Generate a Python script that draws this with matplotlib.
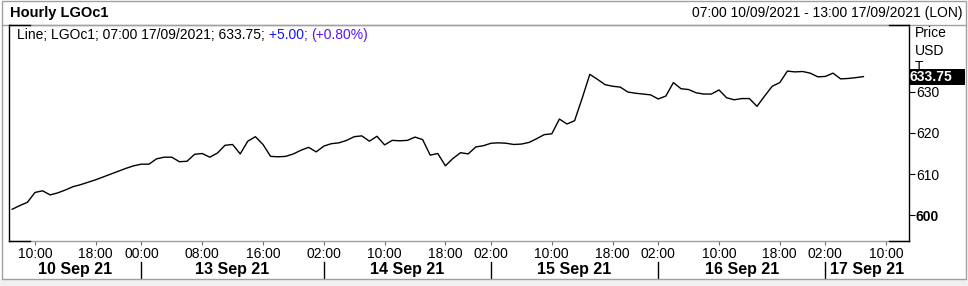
import matplotlib
matplotlib.use("Agg")
import matplotlib.pyplot as plt
from matplotlib.lines import Line2D
from matplotlib.patches import Rectangle
import matplotlib.transforms as mtransforms

plt.rcParams['font.family'] = ['Liberation Sans', 'DejaVu Sans']

## Data: hourly LGOc1 closes, 10/09/2021 07:00 -> 17/09/2021 07:00 (trading hours only)
prices = [
    601.4, 602.3, 603.1, 605.5, 605.9, 604.9, 605.4, 606.1, 606.9, 607.4,
    608.0, 608.6, 609.3, 610.0, 610.7, 611.4, 612.0, 612.4, 612.4, 613.7,
    614.1, 614.1, 613.0, 613.1, 614.8, 615.0, 614.1, 615.1, 617.0, 617.2,
    614.9, 618.0, 619.1, 617.2, 614.3, 614.2, 614.3, 614.9, 615.8, 616.5,
    615.4, 616.8, 617.4, 617.6, 618.2, 619.1, 619.3, 618.0, 619.2, 617.1,
    618.2, 618.1, 618.2, 619.0, 618.4, 614.6, 615.0, 612.0, 613.8, 615.2,
    614.9, 616.6, 616.9, 617.5, 617.6, 617.5, 617.2, 617.3, 617.7, 618.6,
    619.6, 619.8, 623.4, 622.2, 623.0, 628.5, 634.3, 633.1, 631.8, 631.4,
    631.2, 630.0, 629.7, 629.5, 629.3, 628.3, 629.0, 632.3, 630.8, 630.6,
    629.8, 629.5, 629.5, 630.5, 628.6, 628.1, 628.4, 628.4, 626.5, 629.0,
    631.4, 632.3, 635.1, 634.9, 635.0, 634.6, 633.7, 633.8, 634.6, 633.2,
    633.3, 633.5, 633.75,
]
tick_pos = [3, 11, 17, 25, 33, 41, 49, 57, 63, 71, 79, 85, 93, 101, 107, 115]
tick_labels = ['10:00', '18:00', '00:00', '08:00', '16:00', '02:00', '10:00', '18:00',
               '02:00', '10:00', '18:00', '02:00', '10:00', '18:00', '02:00', '10:00']
day_starts = [17, 41, 63, 85, 107]
day_labels = ['10 Sep 21', '13 Sep 21', '14 Sep 21', '15 Sep 21', '16 Sep 21', '17 Sep 21']
y_ticks = [600, 610, 620, 630]
last_price = 633.75

## Layout (pixels)
W, H = 968, 286
grey = '#a0a0a0'
x_lo, x_hi = -0.42, 118
y_lo, y_hi = 593.66, 646.34


def fx(x):
    return x / W


def fy(y):
    return 1 - y / H


fig = plt.figure(figsize=(W / 100, H / 100), dpi=100)
fig.patch.set_facecolor('white')

# bottom strip + outer border
fig.patches.append(Rectangle((0, 0), 1, fy(279), transform=fig.transFigure,
                             facecolor='#f0f0f0', edgecolor='none', zorder=0))
fig.patches.append(Rectangle((fx(2), fy(279)), fx(966) - fx(2), fy(1) - fy(279),
                             transform=fig.transFigure, facecolor='none',
                             edgecolor=grey, lw=1, zorder=1))
# header separator
fig.lines.append(Line2D([fx(2), fx(966)], [fy(25), fy(25)], transform=fig.transFigure,
                        color=grey, lw=1))

ax = fig.add_axes([fx(9), fy(241), fx(909) - fx(9), fy(25) - fy(241)])
ax.plot(range(len(prices)), prices, color='black', lw=1.0)
ax.set_xlim(x_lo, x_hi)
ax.set_ylim(y_lo, y_hi)

for s in ['left', 'right']:
    ax.spines[s].set_color('black')
    ax.spines[s].set_linewidth(1)
for s in ['top', 'bottom']:
    ax.spines[s].set_color(grey)
    ax.spines[s].set_linewidth(1)

# black corner stubs on the plot box
for yy in [25, 240.5]:
    for xa, xb in [(9, 30), (889, 909)]:
        fig.lines.append(Line2D([fx(xa), fx(xb)], [fy(yy), fy(yy)],
                                transform=fig.transFigure, color='black', lw=1))

# x axis
ax.set_xticks(tick_pos)
ax.set_xticklabels(tick_labels)
ax.tick_params(axis='x', direction='out', length=3, color='#707070', labelsize=10,
               pad=1, labelcolor='black')

# day labels and separators
trans = mtransforms.blended_transform_factory(ax.transData, ax.transAxes)
bounds = [x_lo] + day_starts + [x_hi]
for i, lab in enumerate(day_labels):
    xc = (bounds[i] + bounds[i + 1]) / 2
    ax.text(xc, -0.132, lab, transform=trans, ha='center', va='center',
            fontsize=11.5, fontweight='bold', clip_on=False)
for d in day_starts:
    ax.add_line(Line2D([d, d], [-0.097, -0.176], transform=trans, color='black',
                       lw=1, clip_on=False))

# y axis on right
ax.yaxis.tick_right()
ax.set_yticks(y_ticks)
ax.set_yticklabels([str(v) for v in y_ticks])
ax.tick_params(axis='y', direction='out', length=4, color='black', labelsize=10, pad=1)
ax.get_yticklabels()[0].set_fontweight('bold')

# header texts
fig.text(fx(10), fy(13), 'Hourly LGOc1', fontsize=10.5, fontweight='bold',
         ha='left', va='center')
fig.text(fx(962), fy(13), '07:00 10/09/2021 - 13:00 17/09/2021 (LON)', fontsize=10,
         ha='right', va='center')

# legend line (black / blue / violet parts)
t1 = fig.text(fx(17), fy(35), 'Line; LGOc1; 07:00 17/09/2021; 633.75; ', fontsize=10,
              ha='left', va='center', color='black')
fig.canvas.draw()
bb = t1.get_window_extent()
t2 = fig.text(bb.x1 / W, fy(35), '+5.00; ', fontsize=10, ha='left', va='center',
              color='#1414ff')
fig.canvas.draw()
bb2 = t2.get_window_extent()
fig.text(bb2.x1 / W, fy(35), '(+0.80%)', fontsize=10, ha='left', va='center',
         color='#5a14ff')

# unit labels ("T" is mostly hidden behind the last-price box, as in the terminal)
fig.text(fx(915), fy(33), 'Price', fontsize=10, ha='left', va='center')
fig.text(fx(915), fy(51), 'USD', fontsize=10, ha='left', va='center')
t_unit = fig.text(fx(915), fy(67), 'T', fontsize=10, ha='left', va='center', zorder=2)
clip = Rectangle((fx(909), fy(69)), fx(965) - fx(909), fy(55) - fy(69),
                 transform=fig.transFigure)
t_unit.set_clip_path(clip)

# last price box
fig.patches.append(Rectangle((fx(909), fy(85)), fx(965) - fx(909), fy(69) - fy(85),
                             transform=fig.transFigure, facecolor='black',
                             edgecolor='none', zorder=3))
fig.text(fx(910), fy(77), f'{last_price:.2f}', fontsize=10, fontweight='bold',
         color='white', ha='left', va='center', zorder=4)

fig.savefig('out.png', dpi=100)
